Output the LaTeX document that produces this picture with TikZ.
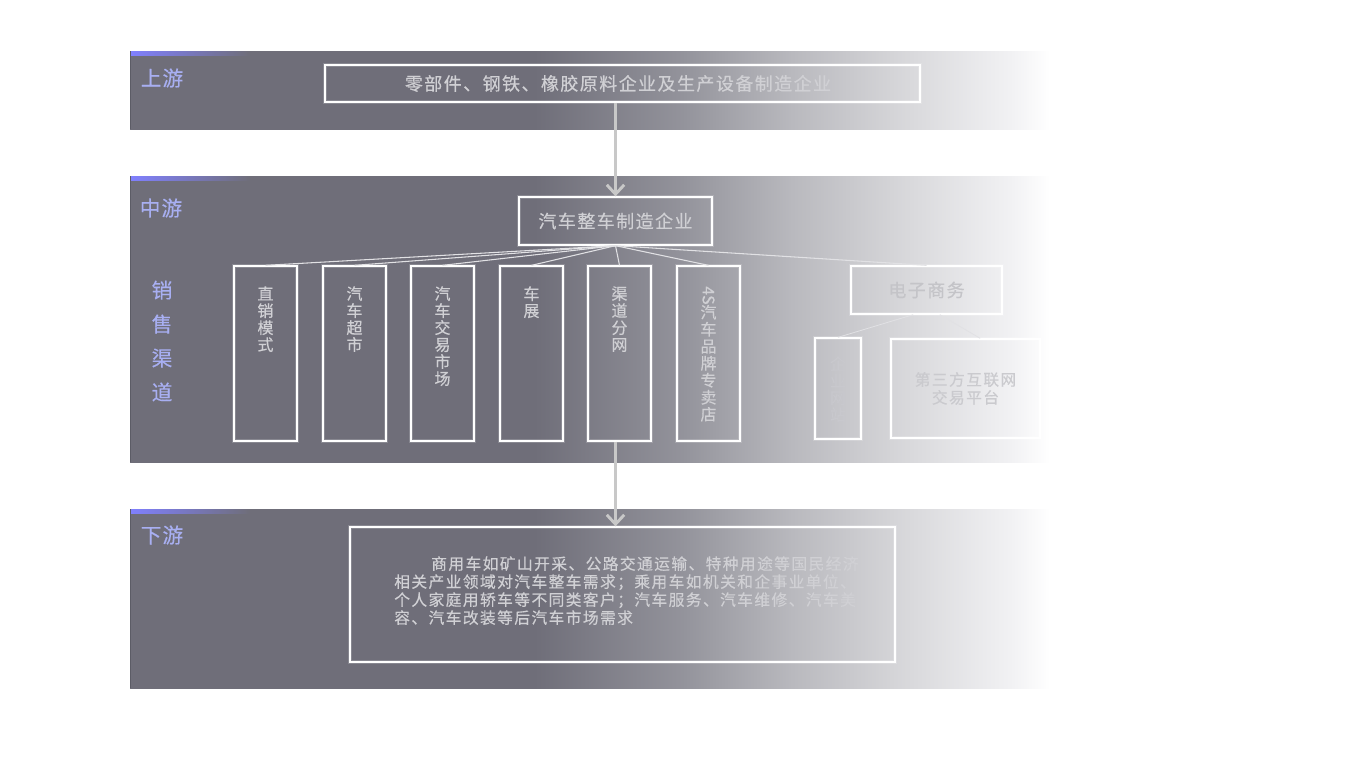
\documentclass[tikz,border=0pt]{standalone}
\usepackage{fontspec}
\usepackage{graphicx}
\usetikzlibrary{arrows.meta}
\newfontfamily\cjk[FakeBold=0.4]{Noto Sans CJK SC}
\newfontfamily\cjkA[LetterSpace=8,FakeBold=0.4]{Noto Sans CJK SC}
\newfontfamily\cjkB[LetterSpace=9,FakeBold=0.4]{Noto Sans CJK SC}
\newfontfamily\cjkC[LetterSpace=5,FakeBold=0.4]{Noto Sans CJK SC}
\definecolor{bandDark}{RGB}{111,110,121}
\definecolor{bandA}{RGB}{147,147,155}
\definecolor{bandB}{RGB}{185,185,190}
\definecolor{bandC}{RGB}{215,215,218}
\definecolor{bandD}{RGB}{242,242,244}
\definecolor{edgeDark}{RGB}{92,92,102}
\definecolor{stripeBlue}{RGB}{128,128,255}
\definecolor{sideBlue}{RGB}{168,175,242}
\definecolor{txtGray}{RGB}{208,208,212}
\definecolor{txtLight}{RGB}{196,196,200}
\definecolor{txtPlat}{RGB}{202,202,206}
\definecolor{txtFaint}{RGB}{200,200,205}
\definecolor{arrGray}{RGB}{200,200,200}
\definecolor{lineGray}{RGB}{225,225,228}
\pgfdeclarehorizontalshading{bandshade}{100bp}{color(0bp)=(bandDark); color(25bp)=(bandDark); color(47bp)=(bandDark); color(55bp)=(bandA); color(61bp)=(bandB); color(67bp)=(bandC); color(73bp)=(bandD); color(75bp)=(white); color(100bp)=(white)}
\tikzset{
  glowbox/.style={draw=white, line width=1pt, inner sep=0pt,
    preaction={draw=white, draw opacity=0.18, line width=3.5pt}},
  maintext/.style={text=txtGray, inner sep=0pt, font={\cjkA\fontsize{13.5pt}{15pt}\selectfont}},
  smalltext/.style={text=txtGray, inner sep=0pt, font={\cjkB\fontsize{11.8pt}{13.5pt}\selectfont}},
  vtext/.style={text=txtGray, inner sep=0pt, align=center, anchor=north, font={\cjk\fontsize{12pt}{12.75pt}\selectfont}},
  side/.style={text=sideBlue, inner sep=0pt, font={\cjkC\fontsize{15.5pt}{17pt}\selectfont}},
  arr/.style={draw=arrGray, line width=2.2pt, -{Straight Barb[length=7pt, width=13pt]}},
  conn/.style={draw=lineGray, line width=0.8pt},
  faintconn/.style={draw=lineGray, line width=0.6pt},
}
\begin{document}
\begin{tikzpicture}[x=0.75pt,y=-0.75pt]
\useasboundingbox (0,0) rectangle (1366,768);
% bands
\shade[shading=bandshade] (130,51) rectangle (1050,129);
\shade[shading=bandshade] (130,176) rectangle (1050,462);
\shade[shading=bandshade] (130,509) rectangle (1050,688);
\shade[left color=stripeBlue, right color=bandDark] (130,51) rectangle (250,55);
\shade[left color=stripeBlue, right color=bandDark] (130,176) rectangle (250,180);
\shade[left color=stripeBlue, right color=bandDark] (130,509) rectangle (250,513);
\draw[edgeDark, line width=0.8pt] (130.5,51) -- (130.5,129);
\draw[edgeDark, line width=0.8pt] (130.5,176) -- (130.5,462);
\draw[edgeDark, line width=0.8pt] (130.5,509) -- (130.5,688);
% side labels
\node[side] (upl) at (162,78) {上游};
\node[side] (midl) at (161,208) {中游};
\node[side] (dnl) at (162,535) {下游};
\node[side, align=center, font={\cjk\fontsize{15.5pt}{25.5pt}\selectfont}] (chl) at (162,341) {销\\售\\渠\\道};
% upstream
\node[glowbox, minimum width=595*0.75pt, minimum height=37*0.75pt] (up) at (622.5,83.5) {};
\node[maintext] (upt) at (618,83.5) {零部件、钢铁、橡胶原料企业及生产设备制造企业};
% midstream
\node[glowbox, maintext, minimum width=193*0.75pt, minimum height=48*0.75pt] (mfr) at (615.5,221) {汽车整车制造企业};
\node[glowbox, minimum width=63*0.75pt, minimum height=175*0.75pt] (b1) at (265.5,353.5) {};
\node[glowbox, minimum width=63*0.75pt, minimum height=175*0.75pt] (b2) at (354.5,353.5) {};
\node[glowbox, minimum width=63*0.75pt, minimum height=175*0.75pt] (b3) at (442.5,353.5) {};
\node[glowbox, minimum width=63*0.75pt, minimum height=175*0.75pt] (b4) at (531.5,353.5) {};
\node[glowbox, minimum width=63*0.75pt, minimum height=175*0.75pt] (b5) at (619.5,353.5) {};
\node[glowbox, minimum width=63*0.75pt, minimum height=175*0.75pt] (b6) at (708.5,353.5) {};
\node[vtext] (t1) at (265.5,286) {直\\销\\模\\式};
\node[vtext] (t2) at (354.5,286) {汽\\车\\超\\市};
\node[vtext] (t3) at (442.5,286) {汽\\车\\交\\易\\市\\场};
\node[vtext] (t4) at (531.5,286) {车\\展};
\node[vtext] (t5) at (619.5,286) {渠\\道\\分\\网};
\node[vtext] (t6) at (708.5,286) {\rotatebox[origin=c]{-90}{4S}\\汽\\车\\品\\牌\\专\\卖\\店};
\node[glowbox, maintext, text=txtLight, minimum width=151*0.75pt, minimum height=48*0.75pt] (ec) at (926.5,290) {电子商务};
\node[glowbox, minimum width=46*0.75pt, minimum height=101*0.75pt] (web) at (838,388.5) {};
\node[vtext, text=txtFaint] (webt) at (838,356) {企\\业\\网\\站};
\node[glowbox, smalltext, text=txtPlat, align=center, minimum width=149*0.75pt, minimum height=99*0.75pt] (plat) at (965.5,388.5) {第三方互联网\\交易平台};
% connectors
\draw[arr] (up.south -| mfr.north) -- (mfr.north);
\foreach \b in {b1,b2,b3,b4,b5,b6,ec} {\draw[conn] (mfr.south) -- (\b.north);}
\draw[faintconn] ([xshift=-10pt]ec.south) -- (web.north);
\draw[faintconn] ([xshift=10pt]ec.south) -- ([xshift=11pt]plat.north);
% downstream
\node[glowbox, minimum width=545*0.75pt, minimum height=135*0.75pt] (down) at (622.5,594.5) {};
\draw[arr] (b5.south -| mfr.south) -- (down.north -| mfr.south);
\node[smalltext, align=left, anchor=north west] (downt) at (394,556) {\hspace*{27.75pt}商用车如矿山开采、公路交通运输、特种用途等国民经济\\相关产业领域对汽车整车需求；乘用车如机关和企事业单位、\\个人家庭用轿车等不同类客户；汽车服务、汽车维修、汽车美\\容、汽车改装等后汽车市场需求};
\end{tikzpicture}
\end{document}
